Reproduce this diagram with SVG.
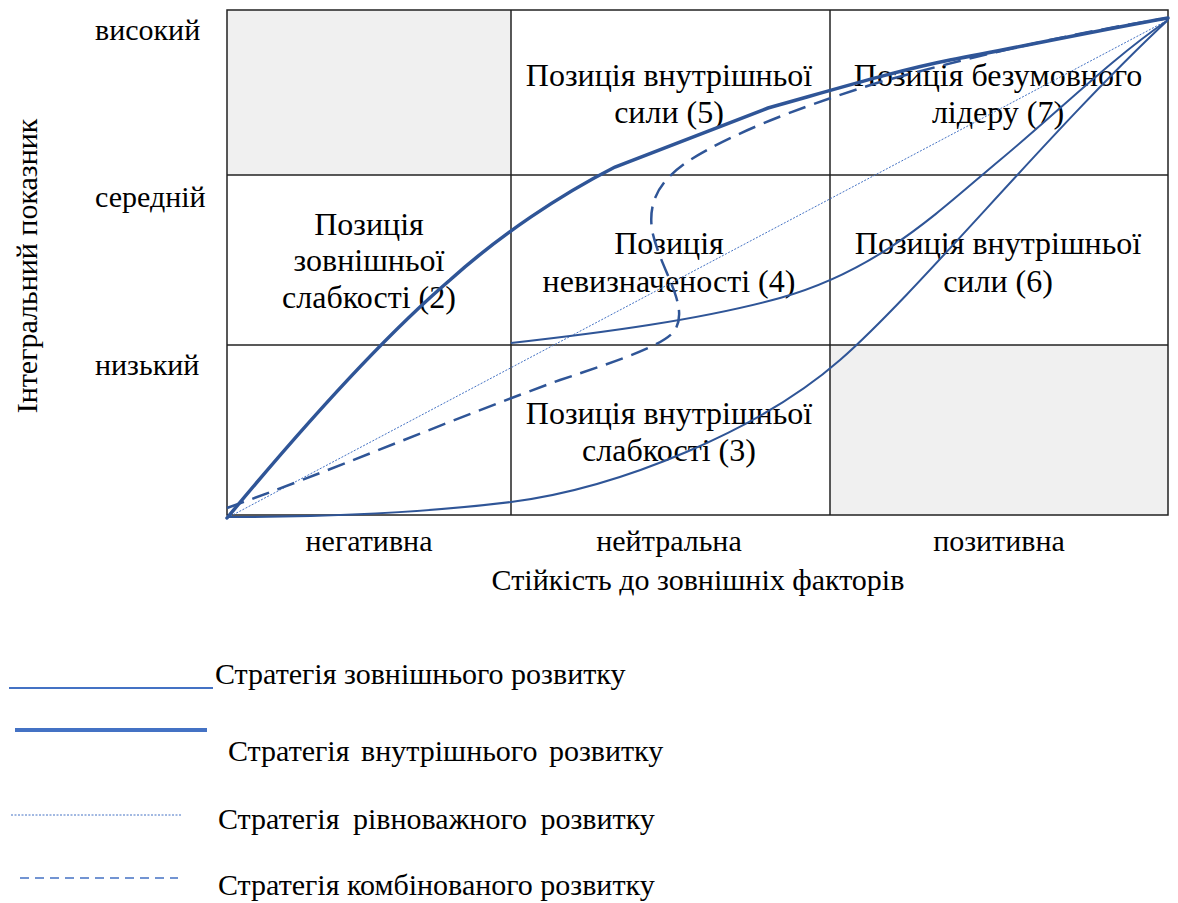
<svg xmlns="http://www.w3.org/2000/svg" width="1178" height="903" viewBox="0 0 1178 903" font-family="'Liberation Serif', serif">
  <!-- matrix grid: shaded corner cells, outer frame and dividers -->
  <g id="matrix">
    <g fill="#f0f0f0">
      <rect x="227" y="10" width="284" height="165"/>
      <rect x="830" y="345" width="338" height="170"/>
    </g>
    <g stroke="#222" stroke-width="1.5" fill="none">
      <rect x="227" y="10" width="941" height="505"/>
      <line x1="511" y1="10" x2="511" y2="515"/>
      <line x1="830" y1="10" x2="830" y2="515"/>
      <line x1="227" y1="175" x2="1168" y2="175"/>
      <line x1="227" y1="345" x2="1168" y2="345"/>
    </g>
  </g>

  <!-- axis labels -->
  <g id="axis-y" fill="#000">
    <text x="95" y="40" style="font-family:'Liberation Serif',serif !important;font-size:30px">високий</text>
    <text x="95" y="207" style="font-family:'Liberation Serif',serif !important;font-size:30px">середній</text>
    <text x="95" y="375" style="font-family:'Liberation Serif',serif !important;font-size:30px">низький</text>
    <text text-anchor="middle" transform="translate(37,266) rotate(-90)" style="font-family:'Liberation Serif',serif !important;font-size:30px">Інтегральний показник</text>
  </g>
  <g id="axis-x" fill="#000" text-anchor="middle">
    <text x="369" y="551" style="font-family:'Liberation Serif',serif !important;font-size:30px">негативна</text>
    <text x="669" y="551" style="font-family:'Liberation Serif',serif !important;font-size:30px">нейтральна</text>
    <text x="999" y="551" style="font-family:'Liberation Serif',serif !important;font-size:30px">позитивна</text>
    <text x="698" y="590" style="font-family:'Liberation Serif',serif !important;font-size:30px">Стійкість до зовнішніх факторів</text>
  </g>

  <!-- cell captions -->
  <g id="cell-2" fill="#000" text-anchor="middle">
    <text x="369" y="235" style="font-family:'Liberation Serif',serif !important;font-size:32px">Позиція</text>
    <text x="369" y="271" style="font-family:'Liberation Serif',serif !important;font-size:32px">зовнішньої</text>
    <text x="369" y="308" style="font-family:'Liberation Serif',serif !important;font-size:32px">слабкості (2)</text>
  </g>
  <g id="cell-5" fill="#000" text-anchor="middle">
    <text x="669" y="86" style="font-family:'Liberation Serif',serif !important;font-size:32px">Позиція внутрішньої</text>
    <text x="669" y="123" style="font-family:'Liberation Serif',serif !important;font-size:32px">сили (5)</text>
  </g>
  <g id="cell-7" fill="#000" text-anchor="middle">
    <text x="998" y="86" style="font-family:'Liberation Serif',serif !important;font-size:32px">Позиція безумовного</text>
    <text x="998" y="123" style="font-family:'Liberation Serif',serif !important;font-size:32px">лідеру (7)</text>
  </g>
  <g id="cell-4" fill="#000" text-anchor="middle">
    <text x="669" y="254" style="font-family:'Liberation Serif',serif !important;font-size:32px">Позиція</text>
    <text x="669" y="292" style="font-family:'Liberation Serif',serif !important;font-size:32px">невизначеності (4)</text>
  </g>
  <g id="cell-6" fill="#000" text-anchor="middle">
    <text x="998" y="254" style="font-family:'Liberation Serif',serif !important;font-size:32px">Позиція внутрішньої</text>
    <text x="998" y="292" style="font-family:'Liberation Serif',serif !important;font-size:32px">сили (6)</text>
  </g>
  <g id="cell-3" fill="#000" text-anchor="middle">
    <text x="669" y="424" style="font-family:'Liberation Serif',serif !important;font-size:32px">Позиція внутрішньої</text>
    <text x="669" y="461" style="font-family:'Liberation Serif',serif !important;font-size:32px">слабкості (3)</text>
  </g>

  <!-- strategy trajectories -->
  <g id="connectors" fill="none">
    <!-- equilibrium: straight dotted diagonal -->
    <line x1="227" y1="518" x2="1168" y2="20" stroke="#4472c4" stroke-width="1" stroke-dasharray="2 1.5"/>
    <!-- external development: two thin solid curves -->
    <g stroke="#2f5597" stroke-width="2">
      <path d="M227,517 C330,517 430,512 511,502 C620,488 760,430 840,360 C920,290 1050,130 1168,20"/>
      <path d="M511,343 C600,333 700,320 780,298 C880,270 940,210 1000,160 C1060,110 1110,60 1168,20"/>
    </g>
    <!-- internal development: thick solid curve -->
    <path d="M227,518 C300,430 380,340 450,280 C500,235 560,195 615,167 L768,108 C850,85 900,70 950,60 C1030,45 1100,30 1168,18" stroke="#2f5597" stroke-width="3.5" stroke-linecap="round"/>
    <!-- combined development: dashed S-curve -->
    <path d="M227,508 C320,475 450,420 560,380 C620,360 665,345 675,330 C690,305 660,270 652,230 C648,200 660,180 690,160 C730,135 790,110 880,82 C960,60 1060,35 1168,18" stroke="#2f5597" stroke-width="2.5" stroke-dasharray="18 9"/>
  </g>

  <!-- legend -->
  <g id="legend" fill="#000">
    <g stroke="#4472c4">
      <line x1="9" y1="688" x2="213" y2="688" stroke-width="2"/>
      <line x1="15" y1="730" x2="207" y2="730" stroke-width="4"/>
      <line x1="11" y1="815" x2="181" y2="815" stroke-width="1" stroke-dasharray="2 1.5"/>
      <line x1="20" y1="878" x2="178" y2="878" stroke-width="1.5" stroke-dasharray="9 6"/>
    </g>
    <text x="215" y="684" style="font-family:'Liberation Serif',serif !important;font-size:30px">Стратегія зовнішнього розвитку</text>
    <text x="228" y="761" style="font-family:'Liberation Serif',serif !important;font-size:30px;word-spacing:4px">Стратегія внутрішнього розвитку</text>
    <text x="218" y="829" style="font-family:'Liberation Serif',serif !important;font-size:30px;word-spacing:6px">Стратегія рівноважного розвитку</text>
    <text x="218" y="895" style="font-family:'Liberation Serif',serif !important;font-size:30px">Стратегія комбінованого розвитку</text>
  </g>
</svg>
